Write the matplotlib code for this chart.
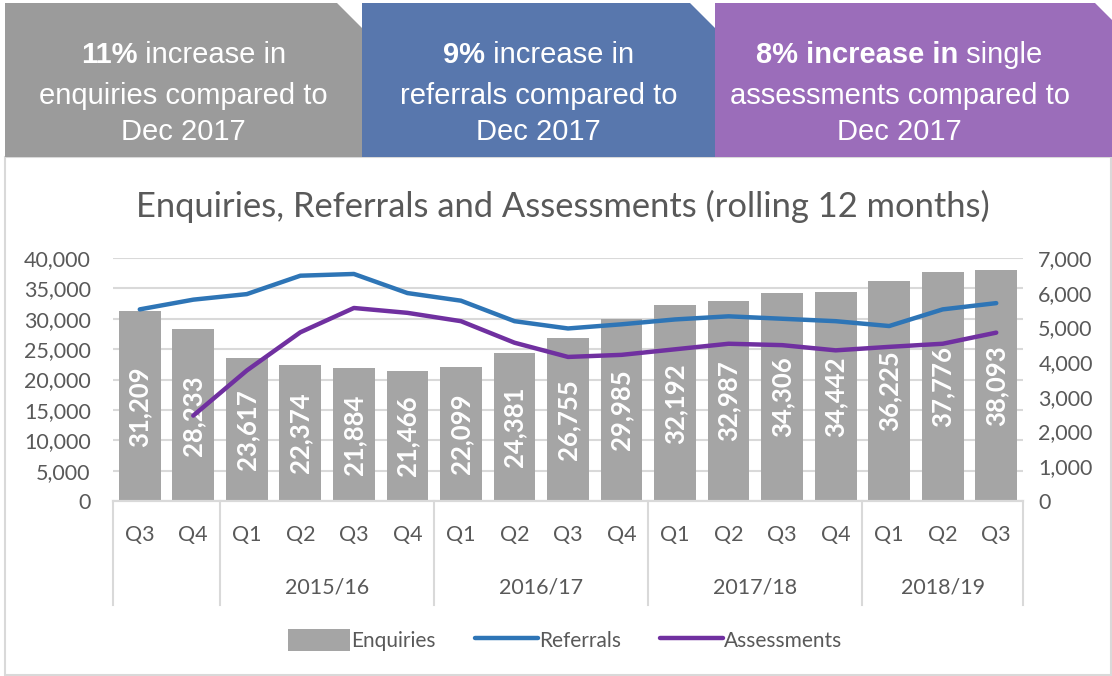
import numpy as np
import matplotlib
matplotlib.use("Agg")
import matplotlib.pyplot as plt
from matplotlib.patches import Polygon, Rectangle
from matplotlib.lines import Line2D
from matplotlib.ticker import FuncFormatter, MultipleLocator

# ---------------- data ----------------
quarters = ["Q3", "Q4", "Q1", "Q2", "Q3", "Q4", "Q1", "Q2", "Q3", "Q4",
            "Q1", "Q2", "Q3", "Q4", "Q1", "Q2", "Q3"]
years = ["", "2015/16", "2016/17", "2017/18", "2018/19"]
year_spans = [(0, 1), (2, 5), (6, 9), (10, 13), (14, 16)]
enquiries = [31209, 28233, 23617, 22374, 21884, 21466, 22099, 24381, 26755,
             29985, 32192, 32987, 34306, 34442, 36225, 37776, 38093]
referrals = [5520, 5800, 5960, 6490, 6540, 5990, 5770, 5180, 4970, 5090,
             5230, 5320, 5250, 5180, 5040, 5520, 5700]
assessments = [np.nan, 2460, 3760, 4860, 5560, 5420, 5180, 4560, 4150, 4210,
               4370, 4530, 4490, 4340, 4440, 4530, 4850]
headers = [
    [[("11%", True), (" increase in", False)],
     [("enquiries compared to", False)],
     [("Dec 2017", False)]],
    [[("9%", True), (" increase in", False)],
     [("referrals compared to", False)],
     [("Dec 2017", False)]],
    [[("8% increase in", True), (" single", False)],
     [("assessments compared to", False)],
     [("Dec 2017", False)]],
]
header_colors = ["#9b9b9b", "#5877ad", "#9b6dba"]
title = "Enquiries, Referrals and Assessments (rolling 12 months)"

# ---------------- styling ----------------
W, H = 1112, 676
FONT = ["Lato", "DejaVu Sans"]
HFONT = ["Liberation Sans Narrow", "Liberation Sans", "DejaVu Sans"]
TXT = "#595959"
GRID = "#d9d9d9"

fig = plt.figure(figsize=(W / 100, H / 100), dpi=100)
fig.patch.set_facecolor("white")

# overlay in pixel coordinates for decorations
ov = fig.add_axes([0, 0, 1, 1], zorder=0)
ov.set_xlim(0, W)
ov.set_ylim(H, 0)
ov.axis("off")

# chart panel border
ov.add_patch(Rectangle((5, 157), W - 6, H - 158, facecolor="white",
                       edgecolor=GRID, lw=1.5))

# header boxes (cut top-right corner)
box_x = [(5, 362), (362, 715), (715, 1112)]
for (x0, x1), col in zip(box_x, header_colors):
    cut = 25 if x1 < W else 17
    poly = Polygon([(x0, 3), (x1 - cut, 3), (x1, 3 + cut), (x1, 157), (x0, 157)],
                   closed=True, facecolor=col, edgecolor="none")
    ov.add_patch(poly)

# header text with mixed bold / regular runs
renderer = fig.canvas.get_renderer()
line_y = [55, 96, 132]
hsize = 21
for (x0, x1), lines in zip(box_x, headers):
    cx = (x0 + x1) / 2 + (0 if x1 < W else -14)
    for ly, runs in zip(line_y, lines):
        texts = []
        for s, b in runs:
            t = ov.text(0, ly, s, fontsize=hsize, family=HFONT,
                        fontweight="bold" if b else "normal", color="white",
                        ha="left", va="center")
            texts.append(t)
        widths = []
        for t in texts:
            bb = t.get_window_extent(renderer=renderer)
            widths.append(bb.width)
        total = sum(widths)
        x = cx - total / 2
        for t, w in zip(texts, widths):
            t.set_x(x)
            x += w

# title
ov.text(563, 206, title, fontsize=24.8, family=FONT, color=TXT,
        ha="center", va="center")

# ---------------- main axes ----------------
L, R, T, B = 113, 1023, 258, 501
ax = fig.add_axes([L / W, 1 - B / H, (R - L) / W, (B - T) / H], zorder=2)
ax.patch.set_alpha(0)
ax2 = ax.twinx()

x = np.arange(len(quarters))
bars = ax.bar(x, enquiries, width=0.78, color="#a5a5a5", zorder=2,
              label="Enquiries")
for xi, v in zip(x, enquiries):
    ax.text(xi, v / 2, f"{v:,}", rotation=90, ha="center", va="center",
            color="white", fontsize=18.5, fontweight="bold", family=FONT,
            zorder=3)

ln1, = ax2.plot(x, referrals, color="#2e75b6", lw=3.2, label="Referrals",
                solid_capstyle="round", solid_joinstyle="round")
ln2, = ax2.plot(x, assessments, color="#7030a0", lw=3.2, label="Assessments",
                solid_capstyle="round", solid_joinstyle="round")

ax.set_xlim(-0.5, len(quarters) - 0.5)
ax.set_ylim(0, 40000)
ax2.set_ylim(0, 7000)
ax.yaxis.set_major_locator(MultipleLocator(5000))
ax2.yaxis.set_major_locator(MultipleLocator(1000))
fmt = FuncFormatter(lambda v, p: f"{int(v):,}")
ax.yaxis.set_major_formatter(fmt)
ax2.yaxis.set_major_formatter(fmt)
ax.grid(axis="y", color=GRID, lw=1.5, zorder=0)
ax.set_axisbelow(True)

for a in (ax, ax2):
    for s in ["top", "left", "right"]:
        a.spines[s].set_visible(False)
    a.spines["bottom"].set_color(GRID)
    a.spines["bottom"].set_linewidth(1.5)
ax.tick_params(axis="y", length=0, pad=16, labelsize=15.5, labelcolor=TXT)
ax2.tick_params(axis="y", length=0, pad=11, labelsize=15.5, labelcolor=TXT)
for lab in ax.get_yticklabels() + ax2.get_yticklabels():
    lab.set_family(FONT)

ax.set_xticks(x)
ax.set_xticklabels(quarters)
ax.tick_params(axis="x", length=0, pad=17, labelsize=15.5, labelcolor=TXT)
for lab in ax.get_xticklabels():
    lab.set_family(FONT)

# hierarchical year labels and separators
sep_bottom = -(605 - B) / (B - T)
for name, (a0, a1) in zip(years, year_spans):
    ax.text((a0 + a1) / 2, -(587 - B) / (B - T), name,
            transform=ax.get_xaxis_transform(), ha="center", va="center",
            fontsize=15.5, color=TXT, family=FONT)
seps = [-0.5] + [s[1] + 0.5 for s in year_spans]
for sx in seps:
    ax.add_line(Line2D([sx, sx], [0, sep_bottom],
                       transform=ax.get_xaxis_transform(), color=GRID,
                       lw=1.5, clip_on=False))

# legend
leg = fig.legend(handles=[bars, ln1, ln2],
                 labels=["Enquiries", "Referrals", "Assessments"],
                 loc="center", bbox_to_anchor=(565 / W, 1 - 640 / H), ncol=3,
                 frameon=False, handlelength=3.0, handleheight=1.2,
                 handletextpad=0.05, columnspacing=1.9,
                 prop={"family": FONT, "size": 15})
for t in leg.get_texts():
    t.set_color(TXT)

fig.savefig("out.png", dpi=100, facecolor="white")
